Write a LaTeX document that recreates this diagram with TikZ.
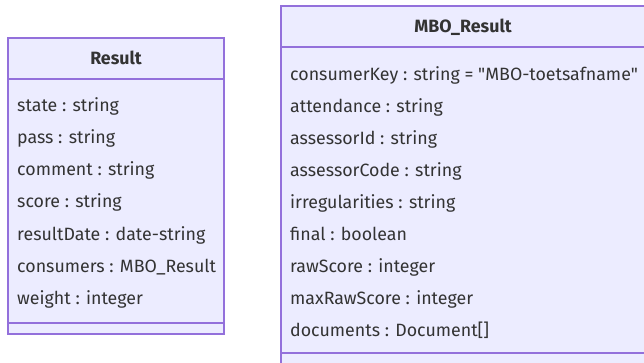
\documentclass[tikz,border=0pt]{standalone}
\usepackage{fontspec}
\setmainfont{Fira Sans}[Ligatures=TeXOff]
\definecolor{classfill}{HTML}{ECECFF}
\definecolor{classline}{HTML}{9370DB}
\definecolor{classtext}{HTML}{333333}
\tikzset{
	classbox/.style = {draw=classline, fill=classfill, line width=1.3pt},
	divider/.style = {draw=classline, line width=1.3pt},
	attr/.style = {anchor=west, inner sep=0pt, text=classtext, text height=13pt, text depth=4pt,
		font=\fontsize{17.8}{21}\selectfont},
	classname/.style = {inner sep=0pt, text=classtext, text height=13pt, text depth=4pt,
		font=\fontsize{17.8}{21}\selectfont\bfseries}
}
\begin{document}
\begin{tikzpicture}[x = 1pt, y = -1pt]
		\useasboundingbox (0,0) rectangle (644,363);
		% Result
		\path [classbox] (8,38) rectangle (224,334);
		\path [divider] (8,79) -- (224,79);
		\path [divider] (8,323) -- (224,323);
		\node [classname] (result) at (116,60) {Result};
		\node [attr] (state) at (17,107) {state : string};
		\node [attr] (pass) at (17,139) {pass : string};
		\node [attr] (comment) at (17,171) {comment : string};
		\node [attr] (score) at (17,203) {score : string};
		\node [attr] (resultdate) at (17,236) {resultDate : date-string};
		\node [attr] (consumers) at (17,268) {consumers : MBO\_Result};
		\node [attr] (weight) at (17,300) {weight : integer};
		% MBO_Result
		\path [classbox] (281,6) rectangle (648,368);
		\path [divider] (281,47) -- (648,47);
		\path [divider] (281,353) -- (648,353);
		\node [classname] (mboresult) at (463,28) {MBO\_Result};
		\node [attr] (consumerkey) at (290,76) {consumerKey : string = "MBO-toetsafname"};
		\node [attr] (attendance) at (290,108) {attendance : string};
		\node [attr] (assessorid) at (290,140) {assessorId : string};
		\node [attr] (assessorcode) at (290,172) {assessorCode : string};
		\node [attr] (irregularities) at (290,204) {irregularities : string};
		\node [attr] (final) at (290,236) {final : boolean};
		\node [attr] (rawscore) at (290,268) {rawScore : integer};
		\node [attr] (maxrawscore) at (290,300) {maxRawScore : integer};
		\node [attr] (documents) at (290,332) {documents : Document[]};
	\end{tikzpicture}
\end{document}
